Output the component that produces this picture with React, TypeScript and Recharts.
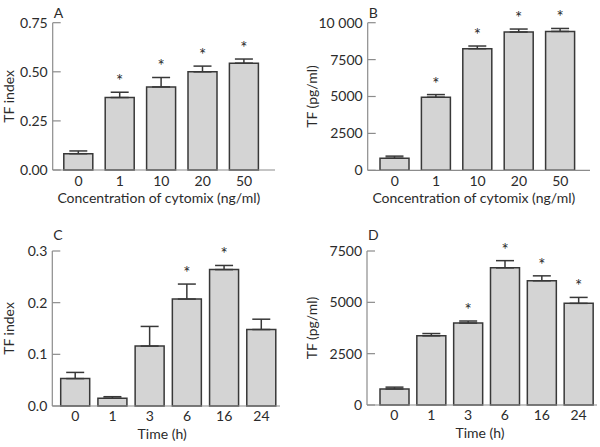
import { Bar, BarChart, ErrorBar, Rectangle, XAxis, YAxis } from "recharts";

// Cytomix dose (ng/ml) and time course (h) categories
const DOSE = ["0", "1", "10", "20", "50"];
const HOURS = ["0", "1", "3", "6", "16", "24"];

// A: TF index vs cytomix dose
const A_MEAN = [0.083, 0.369, 0.423, 0.5, 0.544];
const A_ERR = [0.014, 0.027, 0.048, 0.029, 0.021];
const A_STAR = [false, true, true, true, true];
const A_TICKS = [0, 0.25, 0.5, 0.75];

// B: TF (pg/ml) vs cytomix dose
const B_MEAN = [820, 4950, 8240, 9370, 9410];
const B_ERR = [140, 180, 180, 200, 200];
const B_STAR = [false, true, true, true, true];
const B_TICKS = [0, 2500, 5000, 7500, 10000];

// C: TF index over time
const C_MEAN = [0.053, 0.015, 0.116, 0.207, 0.264, 0.148];
const C_ERR = [0.012, 0.003, 0.038, 0.029, 0.008, 0.02];
const C_STAR = [false, false, false, true, true, false];
const C_TICKS = [0, 0.1, 0.2, 0.3];

// D: TF (pg/ml) over time
const D_MEAN = [780, 3370, 3990, 6680, 6050, 4950];
const D_ERR = [90, 110, 100, 350, 240, 290];
const D_STAR = [false, false, true, true, true, true];
const D_TICKS = [0, 2500, 5000, 7500];

const FONT = 'Lato, "Noto Sans", sans-serif';
const FS = 14;
const TEXT = "#2b2b2b";
const AXIS = "#8c8c8c";
const BAR_FILL = "#d4d4d4";
const BAR_STROKE = "#383838";

type Row = { name: string; mean: number; err: [number, number]; star: boolean };

function rows(names: string[], mean: number[], err: number[], star: boolean[]): Row[] {
  return names.map((name, i) => ({ name, mean: mean[i], err: [0, err[i]], star: star[i] }));
}

// bar body plus the significance asterisk sitting above its error cap
function BarWithStar(props: any) {
  const { x, y, width, height, payload } = props;
  const errPx = payload.mean > 0 ? (payload.err[1] * height) / payload.mean : 0;
  return (
    <g>
      <Rectangle x={x} y={y} width={width} height={height} fill={BAR_FILL} stroke={BAR_STROKE} strokeWidth={1.5} />
      {payload.star && (
        <text x={x + width / 2} y={y - errPx - 5} textAnchor="middle" fontSize={17} fill={TEXT} fontFamily={FONT}>
          *
        </text>
      )}
    </g>
  );
}

type PanelProps = {
  letter: string;
  data: Row[];
  ticks: number[];
  fmt: (v: number) => string;
  ylabel: string;
  xlabel: string;
  left: number;
  top: number;
  width: number;
  height: number;
  margin: { top: number; right: number; bottom: number; left: number };
  yWidth: number;
  pad: { left: number; right: number };
  ylabelX: number;
  letterY: number;
  tickDy: number;
  xlabelDy: number;
  xlabelShift: number;
};

function Panel(p: PanelProps) {
  const plotTop = p.margin.top;
  const plotBottom = p.height - p.margin.bottom - 30;
  const plotLeft = p.margin.left + p.yWidth;
  const plotRight = p.width - p.margin.right;
  const midY = (plotTop + plotBottom) / 2;
  const midX = (plotLeft + plotRight) / 2 + p.xlabelShift;

  const YTick = (t: any) => (
    <g>
      <text x={t.x} y={t.y} dy="0.35em" textAnchor="end" fontSize={FS} fill={TEXT} fontFamily={FONT}>
        {p.fmt(t.payload.value)}
      </text>
      <line x1={t.x + 5} x2={t.x + 13} y1={t.y} y2={t.y} stroke={AXIS} strokeWidth={1.2} />
    </g>
  );

  const XTick = (t: any) => (
    <text x={t.x} y={t.y + p.tickDy} dy="0.35em" textAnchor="middle" fontSize={FS} fill={TEXT} fontFamily={FONT}>
      {t.payload.value}
    </text>
  );

  return (
    <div style={{ position: "absolute", left: p.left, top: p.top }}>
      <BarChart width={p.width} height={p.height} data={p.data} margin={p.margin}>
        <XAxis
          dataKey="name"
          interval={0}
          height={30}
          tickLine={false}
          tickSize={0}
          tickMargin={0}
          padding={p.pad}
          axisLine={{ stroke: AXIS, strokeWidth: 1.2 }}
          tick={XTick}
        />
        <YAxis
          type="number"
          domain={[p.ticks[0], p.ticks[p.ticks.length - 1]]}
          ticks={p.ticks}
          width={p.yWidth}
          tickLine={false}
          tickSize={0}
          tickMargin={5}
          axisLine={{ stroke: AXIS, strokeWidth: 1.2 }}
          tick={YTick}
        />
        <Bar dataKey="mean" barSize={29} shape={BarWithStar} isAnimationActive={false}>
          <ErrorBar dataKey="err" direction="y" width={9} stroke={BAR_STROKE} strokeWidth={1.5} isAnimationActive={false} />
        </Bar>
        <text x={plotLeft + 1} y={p.letterY} fontSize={FS} fill={TEXT} fontFamily={FONT}>
          {p.letter}
        </text>
        <text
          x={p.ylabelX}
          y={midY}
          transform={`rotate(-90 ${p.ylabelX} ${midY})`}
          textAnchor="middle"
          dy="0.35em"
          fontSize={FS}
          fill={TEXT}
          fontFamily={FONT}
        >
          {p.ylabel}
        </text>
        <text x={midX} y={plotBottom + p.xlabelDy} textAnchor="middle" dy="0.35em" fontSize={FS} fill={TEXT} fontFamily={FONT}>
          {p.xlabel}
        </text>
      </BarChart>
    </div>
  );
}

const fmt2 = (v: number) => v.toFixed(2);
const fmt1 = (v: number) => v.toFixed(1);
const fmtPg = (v: number) => (v >= 10000 ? "10 000" : String(v));

export default function App() {
  return (
    <div style={{ position: "absolute", left: 0, top: 0, width: 600, height: 447, background: "#fff", overflow: "hidden" }}>
      <Panel
        letter="A"
        data={rows(DOSE, A_MEAN, A_ERR, A_STAR)}
        ticks={A_TICKS}
        fmt={fmt2}
        ylabel="TF index"
        xlabel="Concentration of cytomix (ng/ml)"
        left={0}
        top={0}
        width={300}
        height={220}
        margin={{ top: 22.7, right: 25, bottom: 20, left: 0 }}
        yWidth={52.7}
        pad={{ left: 5.1, right: 10.2 }}
        ylabelX={9}
        letterY={17.5}
        tickDy={10.7}
        xlabelDy={28}
        xlabelShift={-5}
      />
      <Panel
        letter="B"
        data={rows(DOSE, B_MEAN, B_ERR, B_STAR)}
        ticks={B_TICKS}
        fmt={fmtPg}
        ylabel="TF (pg/ml)"
        xlabel="Concentration of cytomix (ng/ml)"
        left={300}
        top={0}
        width={300}
        height={220}
        margin={{ top: 22.7, right: 10, bottom: 19.7, left: 0 }}
        yWidth={67.7}
        pad={{ left: 6.3, right: 9 }}
        ylabelX={12}
        letterY={17.5}
        tickDy={10.7}
        xlabelDy={28}
        xlabelShift={-5}
      />
      <Panel
        letter="C"
        data={rows(HOURS, C_MEAN, C_ERR, C_STAR)}
        ticks={C_TICKS}
        fmt={fmt1}
        ylabel="TF index"
        xlabel="Time (h)"
        left={0}
        top={220}
        width={300}
        height={227}
        margin={{ top: 31, right: 20, bottom: 11, left: 0 }}
        yWidth={52.3}
        pad={{ left: 4.4, right: 0 }}
        ylabelX={9.5}
        letterY={20}
        tickDy={10.5}
        xlabelDy={28}
        xlabelShift={-4}
      />
      <Panel
        letter="D"
        data={rows(HOURS, D_MEAN, D_ERR, D_STAR)}
        ticks={D_TICKS}
        fmt={fmtPg}
        ylabel="TF (pg/ml)"
        xlabel="Time (h)"
        left={300}
        top={220}
        width={300}
        height={227}
        margin={{ top: 31, right: 3, bottom: 12, left: 0 }}
        yWidth={67}
        pad={{ left: 9, right: 0 }}
        ylabelX={12}
        letterY={20}
        tickDy={10.5}
        xlabelDy={28}
        xlabelShift={-2}
      />
    </div>
  );
}
